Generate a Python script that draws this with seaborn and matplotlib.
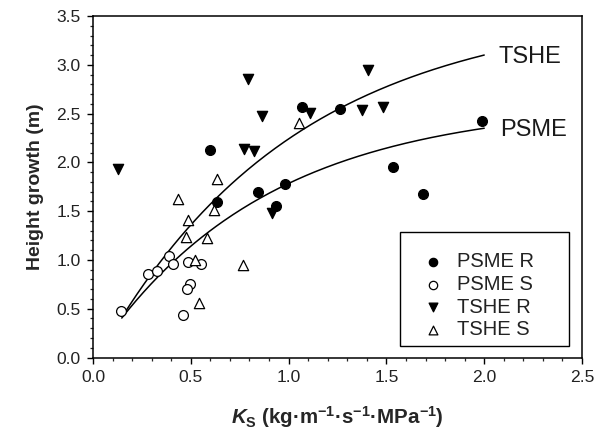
import numpy as np
import pandas as pd
import matplotlib
matplotlib.use("Agg")
import matplotlib.pyplot as plt
from matplotlib.ticker import MultipleLocator, FormatStrFormatter
from matplotlib.patches import Rectangle
import seaborn as sns

# Sapwood-specific conductivity (Ks) vs. height growth, by species and site
psme_r_ks = [0.598, 1.069, 1.263, 0.845, 0.980, 0.634, 0.934, 1.990, 1.534, 1.686]
psme_r_h = [2.128, 2.572, 2.552, 1.700, 1.779, 1.592, 1.554, 2.423, 1.957, 1.677]

psme_s_ks = [0.145, 0.280, 0.326, 0.390, 0.411, 0.487, 0.554, 0.496, 0.482, 0.462]
psme_s_h = [0.480, 0.856, 0.887, 1.041, 0.956, 0.983, 0.959, 0.754, 0.703, 0.433]

tshe_r_ks = [0.129, 0.794, 0.864, 0.770, 0.823, 1.109, 1.404, 1.377, 1.484, 0.914]
tshe_r_h = [1.933, 2.856, 2.480, 2.138, 2.121, 2.505, 2.942, 2.538, 2.572, 1.479]

tshe_s_ks = [0.487, 0.475, 0.581, 0.521, 0.540, 0.765, 0.617, 0.433, 0.634, 1.052]
tshe_s_h = [1.410, 1.239, 1.229, 1.000, 0.562, 0.949, 1.513, 1.623, 1.828, 2.408]

# Fitted curves: H = y0 + a * (1 - exp(-b * Ks))
fit_tshe = dict(y0=-0.095, a=3.695, b=1.00, x0=0.15, x1=2.0)
fit_psme = dict(y0=-0.002, a=2.614, b=1.15, x0=0.147, x1=2.0)

sns.set_style("ticks")
plt.rcParams["font.family"] = ["Liberation Sans", "DejaVu Sans"]
plt.rcParams["mathtext.fontset"] = "custom"
plt.rcParams["mathtext.rm"] = "Liberation Sans:bold"
plt.rcParams["mathtext.bf"] = "Liberation Sans:bold"
plt.rcParams["mathtext.it"] = "Liberation Sans:italic:bold"

fig = plt.figure(figsize=(6.02, 4.41), dpi=100)
ax = fig.add_axes([0.1545, 0.1893, 0.8123, 0.7744])


def fit_frame(p):
    ks = np.linspace(p["x0"], p["x1"], 200)
    h = p["y0"] + p["a"] * (1.0 - np.exp(-p["b"] * ks))
    return pd.DataFrame({"Ks": ks, "H": h})


for p in (fit_tshe, fit_psme):
    sns.lineplot(data=fit_frame(p), x="Ks", y="H", ax=ax, color="black",
                 linewidth=1.1, legend=False, zorder=2)

groups = [
    ("PSME R", psme_r_ks, psme_r_h, "o", "black", 50),
    ("PSME S", psme_s_ks, psme_s_h, "o", "white", 50),
    ("TSHE R", tshe_r_ks, tshe_r_h, "v", "black", 55),
    ("TSHE S", tshe_s_ks, tshe_s_h, "^", "white", 55),
]
handles = []
for label, ks, h, mk, fc, sz in groups:
    df = pd.DataFrame({"Ks": ks, "H": h})
    sns.scatterplot(data=df, x="Ks", y="H", ax=ax, marker=mk, color=fc,
                    edgecolor="black", linewidth=0.9, s=sz, zorder=3,
                    label=label, legend=False)
    handles.append(ax.collections[-1])

ax.text(2.075, 3.08, "TSHE", fontsize=17, va="center", ha="left", color="#1a1a1a")
ax.text(2.08, 2.33, "PSME", fontsize=17, va="center", ha="left", color="#1a1a1a")

ax.set_xlim(0, 2.5)
ax.set_ylim(0, 3.5)
ax.xaxis.set_major_locator(MultipleLocator(0.5))
ax.xaxis.set_minor_locator(MultipleLocator(0.1))
ax.yaxis.set_major_locator(MultipleLocator(0.5))
ax.yaxis.set_minor_locator(MultipleLocator(0.1))
ax.xaxis.set_major_formatter(FormatStrFormatter("%.1f"))
ax.yaxis.set_major_formatter(FormatStrFormatter("%.1f"))
ax.tick_params(axis="both", which="major", direction="out", length=4,
               width=1, labelsize=12.6, colors="black", labelcolor="#222222", pad=5)
ax.tick_params(axis="both", which="minor", direction="out", length=2.4, width=0.9)
ax.tick_params(top=False, right=False, which="both")
for sp in ax.spines.values():
    sp.set_visible(True)
    sp.set_linewidth(1.1)
    sp.set_color("black")

ax.set_ylabel("Height growth (m)", fontsize=14, fontweight="bold", labelpad=9)
ax.set_xlabel(r"$\mathit{K}_{\mathrm{S}}$ (kg·m$^{\mathbf{-1}}$·s$^{\mathbf{-1}}$·MPa$^{\mathbf{-1}}$)",
              fontsize=14.8, fontweight="bold", labelpad=14)

leg = ax.legend(handles=handles, labels=[g[0] for g in groups], loc="upper left",
                bbox_to_anchor=(0.675, 0.309), frameon=False, fontsize=14.5,
                borderpad=0, handlelength=1.0, handletextpad=0.68,
                labelspacing=0.19, markerscale=0.85, borderaxespad=0)
for t in leg.get_texts():
    t.set_color("#222222")
ax.add_patch(Rectangle((0.628, 0.034), 0.346, 0.334, transform=ax.transAxes,
                       fill=False, edgecolor="black", linewidth=1.0, zorder=4))

fig.savefig("out.png", dpi=100)
